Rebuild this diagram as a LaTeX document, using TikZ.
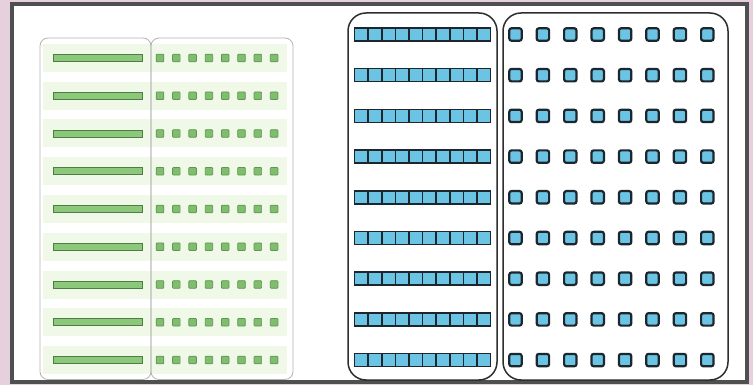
\documentclass[tikz,border=0pt]{standalone}
\begin{document}
\begin{tikzpicture}[x=1pt,y=-1pt,
  band/.style={fill=bandgreen},
  gpanel/.style={draw=panelgray,line width=0.8pt,rounded corners=8pt},
  gbar/.style={fill=bargreen,draw=bardark,line width=0.8pt},
  gsq/.style={fill=sqgreen,draw=sqdark,line width=0.7pt,rounded corners=0.8pt},
  bpanel/.style={draw=bluepanel,line width=1.5pt,rounded corners=18pt},
  bcell/.style={fill=lblue,draw=bdark,line width=1.6pt},
  bsq/.style={fill=lblue,draw=bdark,line width=2.2pt,rounded corners=2.2pt}]
\definecolor{bgpink}{HTML}{E6D0DD}
\definecolor{framegray}{HTML}{4F4F4F}
\definecolor{bandgreen}{HTML}{F0F8E8}
\definecolor{panelgray}{HTML}{B4B4B4}
\definecolor{bargreen}{HTML}{8CC87A}
\definecolor{sqgreen}{HTML}{80BE6E}
\definecolor{bardark}{HTML}{4E7E46}
\definecolor{sqdark}{HTML}{5E9654}
\definecolor{bluepanel}{HTML}{2E2E2E}
\definecolor{lblue}{HTML}{6CC4E4}
\definecolor{bdark}{HTML}{1C262C}
\useasboundingbox (0,0) rectangle (753,385);
\fill[bgpink] (0,0) rectangle (753,385);
\fill[white] (12,4.5) rectangle (747,381.5);
\draw[framegray,line width=4pt] (12,4.5) rectangle (747,381.5);
% green part
\foreach \j in {0,...,8}{
  \pgfmathsetmacro{\yy}{58+37.75*\j}
  \fill[band] (43,\yy-14) rectangle (287,\yy+14);
  \draw[gbar] (53,\yy-3.5) rectangle (142,\yy+3.5);
  \foreach \i in {0,...,7}{
    \pgfmathsetmacro{\xx}{160+16.3*\i}
    \draw[gsq] (\xx-3.8,\yy-3.8) rectangle (\xx+3.8,\yy+3.8);
  }
}
\draw[gpanel] (40,38) rectangle (151,379.5);
\draw[gpanel] (151,38) rectangle (293,379.5);
% blue part
\draw[bpanel] (348,13) rectangle (497,380);
\draw[bpanel] (503,13) rectangle (728,380);
\foreach \j in {0,...,8}{
  \pgfmathsetmacro{\yy}{34.5+40.7*\j}
  \foreach \k in {0,...,9}{
    \pgfmathsetmacro{\xa}{354.5+13.6*\k}
    \pgfmathsetmacro{\xb}{354.5+13.6*(\k+1)}
    \draw[bcell] (\xa,\yy-6.5) rectangle (\xb,\yy+6.5);
  }
  \foreach \i in {0,...,7}{
    \pgfmathsetmacro{\xx}{515.5+27.4*\i}
    \draw[bsq] (\xx-6.2,\yy-6.2) rectangle (\xx+6.2,\yy+6.2);
  }
}
\end{tikzpicture}
\end{document}
